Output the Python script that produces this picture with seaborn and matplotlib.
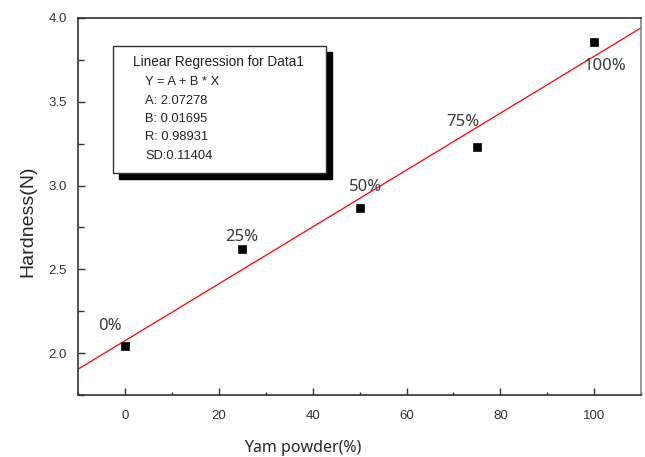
import numpy as np
import pandas as pd
import matplotlib
matplotlib.use("Agg")
import matplotlib.pyplot as plt
from matplotlib.patches import Rectangle
from matplotlib.ticker import MultipleLocator
import seaborn as sns

# data
yam_powder = [0, 25, 50, 75, 100]
hardness = [2.04, 2.62, 2.866, 3.23, 3.857]
point_labels = ["0%", "25%", "50%", "75%", "100%"]
fit_lines = ["Y = A + B * X", "A: 2.07278", "B: 0.01695", "R: 0.98931", "SD:0.11404"]

# label offsets (points)
label_offsets = [(-11, 15), (0, 9), (4, 15), (-10, 18), (8, -17)]

df = pd.DataFrame({"yam": yam_powder, "hardness": hardness})

sns.set_style("white")
plt.rcParams["font.family"] = ["Liberation Sans", "DejaVu Sans"]

fig = plt.figure(figsize=(6.45, 4.57), dpi=100)
ax = fig.add_axes([0.121, 0.1357, 0.873, 0.825])
ax.set_xlim(-10, 110)
ax.set_ylim(1.75, 4.0)

# regression line across the full axis
sns.regplot(data=df, x="yam", y="hardness", ax=ax, ci=None, truncate=False,
            scatter=False, line_kws={"color": "red", "lw": 0.9})
sns.scatterplot(data=df, x="yam", y="hardness", ax=ax, marker="s", s=36,
                color="black", edgecolor="black", zorder=3)
ax.set_xlim(-10, 110)
ax.set_ylim(1.75, 4.0)

for x, y, lab, off in zip(yam_powder, hardness, point_labels, label_offsets):
    ax.annotate(lab, (x, y), xytext=off, textcoords="offset points",
                ha="center", va="center", fontsize=12, color="#3a3a3a",
                family=["Noto Sans", "DejaVu Sans"])

# ticks
ax.xaxis.set_major_locator(MultipleLocator(20))
ax.xaxis.set_minor_locator(MultipleLocator(10))
ax.yaxis.set_major_locator(MultipleLocator(0.5))
ax.yaxis.set_minor_locator(MultipleLocator(0.25))
ax.set_yticks(ax.get_yticks())
ax.set_yticklabels([f"{v:.1f}" for v in ax.get_yticks()])
ax.tick_params(which="both", direction="in", top=False, right=False,
               bottom=True, left=True, labelsize=9.5, colors="#333333", width=1)
ax.tick_params(which="major", length=5)
ax.tick_params(axis="x", which="major", pad=11)
ax.tick_params(axis="x", which="minor", length=2.5)
ax.tick_params(axis="y", which="minor", length=4.5)
ax.tick_params(axis="y", which="major", pad=8)
ax.set_xlim(-10, 110)
ax.set_ylim(1.75, 4.0)

for side in ["left", "bottom", "top"]:
    ax.spines[side].set_color("#333333")
    ax.spines[side].set_linewidth(1.2)
ax.spines["right"].set_color("#888888")
ax.spines["right"].set_linewidth(1.2)

ax.set_xlabel("Yam powder(%)", fontsize=11.5, family=["Noto Sans", "DejaVu Sans"])
ax.set_ylabel("Hardness(N)", fontsize=14)
ax.xaxis.set_label_coords(0.399, -0.12)
ax.yaxis.set_label_coords(-0.074, 0.46)

# regression info box with shadow
box_x0, box_y0, box_w, box_h = 0.062, 0.59, 0.378, 0.336
shadow = Rectangle((box_x0 + 0.011, box_y0 - 0.016), box_w, box_h,
                   transform=ax.transAxes, facecolor="black", edgecolor="black", zorder=4)
box = Rectangle((box_x0, box_y0), box_w, box_h, transform=ax.transAxes,
                facecolor="white", edgecolor="#333333", lw=1, zorder=5)
ax.add_patch(shadow)
ax.add_patch(box)
ax.text(0.097, 0.883, "Linear Regression for Data1", transform=ax.transAxes,
        fontsize=9.8, color="#222222", va="center", zorder=6)
for i, line in enumerate(fit_lines):
    ax.text(0.119, 0.83 - i * 0.049, line, transform=ax.transAxes,
            fontsize=9.3, color="#222222", va="center", zorder=6)

fig.savefig("out.png", dpi=100)
